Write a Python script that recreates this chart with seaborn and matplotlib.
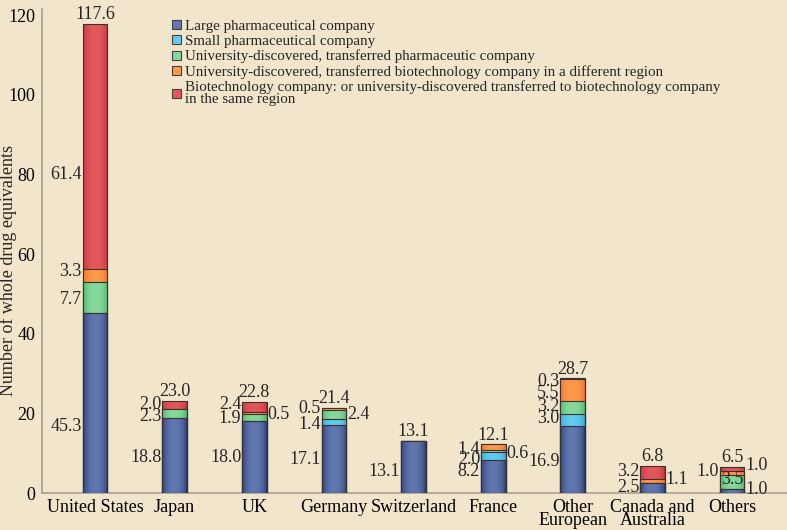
import numpy as np
import pandas as pd
import matplotlib
matplotlib.use("Agg")
import matplotlib.pyplot as plt
from matplotlib.colors import to_rgb
from matplotlib.patches import Patch
import seaborn as sns

# Data
countries = ["United States", "Japan", "UK", "Germany", "Switzerland",
             "France", "Other\nEuropean", "Canada and\nAustralia", "Others"]
large_pharma = [45.3, 18.8, 18.0, 17.1, 13.1, 8.2, 16.9, 2.5, 1.0]
small_pharma = [0.0, 0.0, 0.0, 1.4, 0.0, 2.0, 3.0, 0.0, 0.0]
univ_pharma = [7.7, 2.3, 1.9, 2.4, 0.0, 0.6, 3.2, 0.0, 3.5]
univ_biotech_other = [3.3, 0.0, 0.5, 0.5, 0.0, 1.4, 5.5, 1.1, 1.0]
biotech_same = [61.4, 2.0, 2.4, 0.0, 0.0, 0.0, 0.3, 3.2, 1.0]
totals = [117.6, 23.0, 22.8, 21.4, 13.1, 12.1, 28.7, 6.8, 6.5]

series_names = [
    "Large pharmaceutical company",
    "Small pharmaceutical company",
    "University-discovered, transferred pharmaceutic company",
    "University-discovered, transferred biotechnology company in a different region",
    "Biotechnology company: or university-discovered transferred to biotechnology company\nin the same region",
]
series = [large_pharma, small_pharma, univ_pharma, univ_biotech_other, biotech_same]

# (dark edge, light centre) shades for each series
shades = [("#1a2b60", "#6077b0"), ("#2a9cc8", "#62cbee"), ("#3aa860", "#86d99c"),
          ("#e06a20", "#ff9a4c"), ("#b42a32", "#e4585c")]

# where the segment labels sit: (category, series, side, y in data units)
label_spots = [
    (0, 4, "l", 80.0), (0, 3, "l", 55.5), (0, 2, "l", 48.5), (0, 0, "l", 16.8),
    (1, 4, "l", 22.3), (1, 2, "l", 19.3), (1, 0, "l", 9.0),
    (2, 4, "l", 22.1), (2, 2, "l", 18.8), (2, 3, "r", 19.8), (2, 0, "l", 9.0),
    (3, 3, "l", 21.1), (3, 1, "l", 17.3), (3, 2, "r", 19.6), (3, 0, "l", 8.5),
    (4, 0, "l", 5.3),
    (5, 3, "l", 11.0), (5, 1, "l", 8.3), (5, 0, "l", 5.3), (5, 2, "r", 10.0),
    (6, 4, "l", 28.1), (6, 3, "l", 24.9), (6, 2, "l", 21.8), (6, 1, "l", 18.6), (6, 0, "l", 8.0),
    (7, 4, "l", 5.5), (7, 3, "r", 3.3), (7, 0, "l", 1.3),
    (8, 3, "l", 5.3), (8, 4, "r", 6.8), (8, 2, "c", 3.5), (8, 0, "r", 1.0),
]

bg = "#f1e5cb"
serif = ["Liberation Serif", "DejaVu Serif"]
sns.set_theme(style="white")
plt.rcParams["font.family"] = serif

fig = plt.figure(figsize=(7.87, 5.30), dpi=100, facecolor=bg)
ax = fig.add_axes([0.0534, 0.0698, 0.9466, 0.913])
ax.set_facecolor(bg)

bar_w = 0.31
cum = np.cumsum(np.array(series), axis=0)
t = np.linspace(-1, 1, 64)
mix = np.cos(t * np.pi / 2) ** 0.45

z = 2
for k in range(len(series) - 1, -1, -1):
    n0 = len(ax.patches)
    df = pd.DataFrame({"country": countries, "value": cum[k]})
    sns.barplot(data=df, x="country", y="value", order=countries,
                color=shades[k][1], width=bar_w, ax=ax, errorbar=None)
    dark = np.array(to_rgb(shades[k][0]))
    light = np.array(to_rgb(shades[k][1]))
    grad = (dark[None, :] * (1 - mix[:, None]) + light[None, :] * mix[:, None])[None, :, :]
    for p in ax.patches[n0:]:
        x0, y0 = p.get_x(), p.get_y()
        x1, y1 = x0 + p.get_width(), y0 + p.get_height()
        if y1 - y0 <= 0:
            p.set_visible(False)
            continue
        im = ax.imshow(grad, extent=[x0, x1, y0, y1], aspect="auto",
                       zorder=z, interpolation="bilinear")
        im.set_clip_path(p)
        p.set_facecolor("none")
        p.set_edgecolor("#3a3030")
        p.set_linewidth(0.8)
        p.set_zorder(z + 1)
    z += 2

ax.set_xlim(-0.666, 8.69)
ax.set_ylim(0, 121.5)

# value labels
fs = 13
for i, tot in enumerate(totals):
    ax.text(i, tot + 0.3, f"{tot:.1f}", ha="center", va="bottom", fontsize=fs, zorder=30)
for i, k, side, y in label_spots:
    txt = f"{series[k][i]:.1f}"
    if side == "l":
        ax.text(i - bar_w / 2 - 0.01, y, txt, ha="right", va="center", fontsize=fs, zorder=30)
    elif side == "r":
        ax.text(i + bar_w / 2 + 0.01, y, txt, ha="left", va="center", fontsize=fs, zorder=30)
    else:
        ax.text(i, y, txt, ha="center", va="center", fontsize=fs, zorder=30)

ax.set_yticks(range(0, 121, 20))
ax.set_ylabel("Number of whole drug equivalents", fontsize=13)
ax.yaxis.set_label_coords(-0.034, 0.46)
ax.set_xlabel("")
ax.tick_params(axis="both", labelsize=13, colors="#a09888", labelcolor="black",
               length=4, width=1, direction="out", pad=1)
ax.tick_params(axis="x", length=4, pad=0)
for lbl in ax.get_xticklabels():
    lbl.set_linespacing(0.75)
for s in ["top", "right"]:
    ax.spines[s].set_visible(False)
for s in ["left", "bottom"]:
    ax.spines[s].set_color("#a8a090")
    ax.spines[s].set_linewidth(1.2)

handles = [Patch(facecolor=shades[k][1], edgecolor="#404040", linewidth=0.8)
           for k in range(len(series))]
leg = ax.legend(handles, series_names, loc="upper left", bbox_to_anchor=(0.167, 0.99),
                frameon=False, fontsize=10.8, labelspacing=0.12, handlelength=0.55,
                handleheight=0.55, handletextpad=0.3, borderaxespad=0)
for txt in leg.get_texts():
    txt.set_linespacing(0.9)

fig.savefig("out.png", dpi=100, facecolor=bg)
